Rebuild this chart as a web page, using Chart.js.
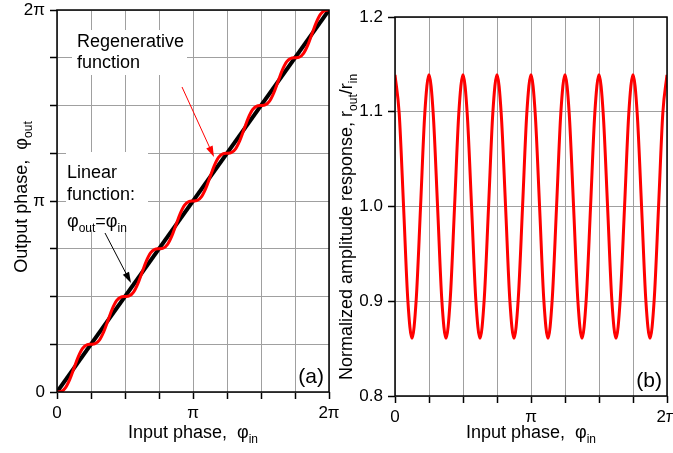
<!DOCTYPE html>
<html>
<head>
<meta charset="utf-8">
<script src="https://cdn.jsdelivr.net/npm/chart.js@4.4.1/dist/chart.umd.min.js"></script>
<style>
  html, body { margin: 0; padding: 0; background: #fff; overflow: hidden; }
  canvas { position: absolute; top: 0; }
  #phaseChart { left: 0; }
  #ampChart { left: 330px; }
</style>
</head>
<body>
<canvas id="phaseChart" width="350" height="453"></canvas>
<canvas id="ampChart" width="343" height="453"></canvas>
<script>
// input phase, in units of pi (0 .. 2pi)
const phaseIn = [
  0.000, 0.031, 0.063, 0.094, 0.125, 0.156, 0.188, 0.219,
  0.250, 0.281, 0.313, 0.344, 0.375, 0.406, 0.438, 0.469,
  0.500, 0.531, 0.563, 0.594, 0.625, 0.656, 0.688, 0.719,
  0.750, 0.781, 0.813, 0.844, 0.875, 0.906, 0.938, 0.969,
  1.000, 1.031, 1.063, 1.094, 1.125, 1.156, 1.188, 1.219,
  1.250, 1.281, 1.313, 1.344, 1.375, 1.406, 1.438, 1.469,
  1.500, 1.531, 1.563, 1.594, 1.625, 1.656, 1.688, 1.719,
  1.750, 1.781, 1.813, 1.844, 1.875, 1.906, 1.938, 1.969,
  2.000
];
// regenerative function, output phase in units of pi
const phaseOut = [
  0.000, 0.003, 0.023, 0.066, 0.125, 0.184, 0.228, 0.247,
  0.250, 0.253, 0.273, 0.316, 0.375, 0.434, 0.478, 0.497,
  0.500, 0.503, 0.523, 0.566, 0.625, 0.684, 0.728, 0.747,
  0.750, 0.753, 0.773, 0.816, 0.875, 0.934, 0.978, 0.997,
  1.000, 1.003, 1.023, 1.066, 1.125, 1.184, 1.228, 1.247,
  1.250, 1.253, 1.273, 1.316, 1.375, 1.434, 1.478, 1.497,
  1.500, 1.503, 1.523, 1.566, 1.625, 1.684, 1.728, 1.747,
  1.750, 1.753, 1.773, 1.816, 1.875, 1.934, 1.978, 1.997,
  2.000
];
// linear function phi_out = phi_in
const linearIn = [0, 2];
const linearOut = [0, 2];
// normalized amplitude response r_out / r_in
const ampOut = [
  1.139, 1.098, 1.000, 0.902, 0.861, 0.902, 1.000, 1.098,
  1.139, 1.098, 1.000, 0.902, 0.861, 0.902, 1.000, 1.098,
  1.139, 1.098, 1.000, 0.902, 0.861, 0.902, 1.000, 1.098,
  1.139, 1.098, 1.000, 0.902, 0.861, 0.902, 1.000, 1.098,
  1.139, 1.098, 1.000, 0.902, 0.861, 0.902, 1.000, 1.098,
  1.139, 1.098, 1.000, 0.902, 0.861, 0.902, 1.000, 1.098,
  1.139, 1.098, 1.000, 0.902, 0.861, 0.902, 1.000, 1.098,
  1.139, 1.098, 1.000, 0.902, 0.861, 0.902, 1.000, 1.098,
  1.139
];
const piTicks = { 0: '0', 1: 'π', 2: '2π' };
const ampTicks = [0.8, 0.9, 1.0, 1.1, 1.2];

const FONT = '"Liberation Sans", Arial, sans-serif';
const GRID = '#a0a0a0';

function richText(ctx, parts, x, y, size, center, rotate) {
    ctx.save();
    ctx.translate(x, y);
    if (rotate) ctx.rotate(-Math.PI / 2);
    const sub = Math.round(size * 0.66);
    let w = 0;
    parts.forEach(p => {
        ctx.font = (p[1] ? sub : size) + 'px ' + FONT;
        w += ctx.measureText(p[0]).width;
    });
    let cx = center ? -w / 2 : 0;
    ctx.fillStyle = '#000';
    ctx.textAlign = 'left';
    ctx.textBaseline = 'alphabetic';
    parts.forEach(p => {
        ctx.font = (p[1] ? sub : size) + 'px ' + FONT;
        ctx.fillText(p[0], cx, p[1] ? size * 0.28 : 0);
        cx += ctx.measureText(p[0]).width;
    });
    ctx.restore();
}

function arrow(ctx, a, color) {
    const [x1, y1, x2, y2] = a;
    const ang = Math.atan2(y2 - y1, x2 - x1);
    ctx.save();
    ctx.strokeStyle = color;
    ctx.fillStyle = color;
    ctx.lineWidth = 1;
    ctx.beginPath();
    ctx.moveTo(x1, y1);
    ctx.lineTo(x2 - 8 * Math.cos(ang), y2 - 8 * Math.sin(ang));
    ctx.stroke();
    ctx.beginPath();
    ctx.moveTo(x2, y2);
    ctx.lineTo(x2 - 11 * Math.cos(ang) + 3.5 * Math.sin(ang), y2 - 11 * Math.sin(ang) - 3.5 * Math.cos(ang));
    ctx.lineTo(x2 - 11 * Math.cos(ang) - 3.5 * Math.sin(ang), y2 - 11 * Math.sin(ang) + 3.5 * Math.cos(ang));
    ctx.closePath();
    ctx.fill();
    ctx.restore();
}

const decor = {
    id: 'decor',
    beforeDatasetsDraw(chart, args, o) {
        const ctx = chart.ctx;
        ctx.save();
        ctx.fillStyle = '#fff';
        (o.boxes || []).forEach(b => ctx.fillRect(b[0], b[1], b[2], b[3]));
        ctx.restore();
    },
    afterDraw(chart, args, o) {
        const ctx = chart.ctx;
        const ca = chart.chartArea;
        ctx.save();
        ctx.strokeStyle = '#000';
        ctx.lineWidth = 1.5;
        ctx.strokeRect(ca.left, ca.top, ca.right - ca.left, ca.bottom - ca.top);
        ctx.restore();
        (o.texts || []).forEach(t => richText(ctx, t.parts, t.x, t.y, t.size, false, false));
        (o.arrows || []).forEach(a => arrow(ctx, a.pts, a.color));
        richText(ctx, o.xTitle, (ca.left + ca.right) / 2, o.xTitleY, 18, true, false);
        richText(ctx, o.yTitle, o.yTitleX, o.yTitleY, 18, true, true);
        ctx.save();
        ctx.font = '21px ' + FONT;
        ctx.fillStyle = '#000';
        ctx.textAlign = 'right';
        ctx.fillText(o.tag, ca.right - 5, ca.bottom - 9);
        ctx.restore();
    }
};

function fixX(w, h) {
    return s => { s.height = h; s.paddingLeft = 0; s.paddingRight = 0; };
}
function fixY(w) {
    return s => { s.width = w; s.paddingTop = 0; s.paddingBottom = 0; };
}

function axis(extra) {
    return Object.assign({
        type: 'linear',
        grid: { color: GRID, lineWidth: 1, tickColor: '#000', tickLength: 7, tickWidth: 1.5 },
        border: { display: false },
        ticks: { color: '#000', font: { family: FONT, size: 17 }, autoSkip: false, maxRotation: 0, padding: 4 }
    }, extra);
}

function points(xs, ys) {
    return xs.map((x, i) => ({ x: x, y: ys[i] }));
}

new Chart(document.getElementById('phaseChart'), {
    type: 'line',
    data: {
        datasets: [
            {
                label: 'Regenerative function',
                data: points(phaseIn, phaseOut),
                borderColor: '#ff0000',
                borderWidth: 3,
                pointRadius: 0,
                cubicInterpolationMode: 'monotone'
            },
            {
                label: 'Linear function',
                data: points(linearIn, linearOut),
                borderColor: '#000000',
                borderWidth: 4,
                pointRadius: 0
            }
        ]
    },
    options: {
        responsive: false,
        animation: false,
        devicePixelRatio: 1,
        layout: { padding: { left: 0, right: 21, top: 10, bottom: 0 } },
        scales: {
            x: axis({
                min: 0, max: 2,
                ticks: { color: '#000', font: { family: FONT, size: 17 }, autoSkip: false, maxRotation: 0, padding: 4,
                    stepSize: 0.25, callback: v => piTicks[v] || '' },
                afterFit: fixX(0, 61)
            }),
            y: axis({
                min: 0, max: 2,
                ticks: { color: '#000', font: { family: FONT, size: 17 }, autoSkip: false, padding: 5,
                    stepSize: 0.25, callback: v => piTicks[v] || '' },
                afterFit: fixY(57)
            })
        },
        plugins: {
            legend: { display: false },
            tooltip: { enabled: false },
            decor: {
                boxes: [[72, 30, 115, 45], [66, 152, 82, 78]],
                texts: [
                    { parts: [['Regenerative']], x: 77, y: 47, size: 18 },
                    { parts: [['function']], x: 77, y: 68, size: 18 },
                    { parts: [['Linear']], x: 67, y: 178, size: 18 },
                    { parts: [['function:']], x: 67, y: 200, size: 18 },
                    { parts: [['φ'], ['out', 1], ['=φ'], ['in', 1]], x: 67, y: 227, size: 18 }
                ],
                arrows: [
                    { pts: [182, 87, 214, 157], color: '#ff0000' },
                    { pts: [105, 233, 131, 283], color: '#000000' }
                ],
                xTitle: [['Input phase,  φ'], ['in', 1]],
                xTitleY: 438,
                yTitle: [['Output phase,  φ'], ['out', 1]],
                yTitleX: 27,
                yTitleY: 197,
                tag: '(a)'
            }
        }
    },
    plugins: [decor]
});

new Chart(document.getElementById('ampChart'), {
    type: 'line',
    data: {
        datasets: [
            {
                label: 'Amplitude response',
                data: points(phaseIn, ampOut),
                borderColor: '#ff0000',
                borderWidth: 3,
                pointRadius: 0,
                cubicInterpolationMode: 'monotone'
            }
        ]
    },
    options: {
        responsive: false,
        animation: false,
        devicePixelRatio: 1,
        layout: { padding: { left: 0, right: 6, top: 17, bottom: 0 } },
        scales: {
            x: axis({
                min: 0, max: 2,
                ticks: { color: '#000', font: { family: FONT, size: 17 }, autoSkip: false, maxRotation: 0, padding: 4,
                    stepSize: 0.25, callback: v => piTicks[v] || '' },
                afterFit: fixX(0, 57)
            }),
            y: axis({
                min: ampTicks[0], max: ampTicks[ampTicks.length - 1],
                afterBuildTicks: s => { s.ticks = ampTicks.map(v => ({ value: v })); },
                ticks: { color: '#000', font: { family: FONT, size: 17 }, autoSkip: false, padding: 5,
                    callback: v => v.toFixed(1) },
                afterFit: fixY(65)
            })
        },
        plugins: {
            legend: { display: false },
            tooltip: { enabled: false },
            decor: {
                xTitle: [['Input phase,  φ'], ['in', 1]],
                xTitleY: 438,
                yTitle: [['Normalized amplitude response, r'], ['out', 1], ['/r'], ['in', 1]],
                yTitleX: 22,
                yTitleY: 227,
                tag: '(b)'
            }
        }
    },
    plugins: [decor]
});
</script>
</body>
</html>
